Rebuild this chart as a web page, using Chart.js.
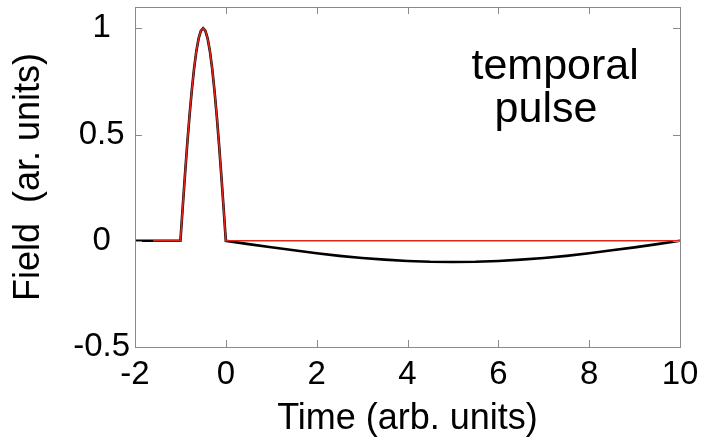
<!DOCTYPE html>
<html>
<head>
<meta charset="utf-8">
<script src="https://cdn.jsdelivr.net/npm/chart.js@4/dist/chart.umd.min.js"></script>
<style>
  body { margin: 0; background: #fff; }
  #wrap { width: 709px; height: 444px; }
</style>
</head>
<body>
<div id="wrap"><canvas id="pulseChart" width="709" height="444"></canvas></div>
<script>
// values
const pulseTime = [-1, -0.95, -0.9, -0.85, -0.8, -0.75, -0.7, -0.65, -0.6, -0.55, -0.5,
                   -0.45, -0.4, -0.35, -0.3, -0.25, -0.2, -0.15, -0.1, -0.05, 0];
const pulseField = [0, 0.156, 0.309, 0.454, 0.588, 0.707, 0.809, 0.891, 0.951, 0.988, 1,
                    0.988, 0.951, 0.891, 0.809, 0.707, 0.588, 0.454, 0.309, 0.156, 0];
const tailTime = [0.5, 1, 1.5, 2, 2.5, 3, 3.5, 4, 4.5, 5, 5.5, 6, 6.5, 7, 7.5, 8, 8.5, 9, 9.5, 10];
const tailField = [-0.016, -0.031, -0.045, -0.059, -0.071, -0.081, -0.089, -0.095, -0.099, -0.1,
                   -0.099, -0.095, -0.089, -0.081, -0.071, -0.059, -0.045, -0.031, -0.016, 0];
const blackStart = [-2, 0];
const redStart = [-1.6, 0];
const redEnd = [10, 0];

const xTicks = [-2, 0, 2, 4, 6, 8, 10];
const yTicks = [-0.5, 0, 0.5, 1];

const FONT = '"Liberation Sans", Arial, sans-serif';

function toPoints(ts, vs) {
    return ts.map((t, i) => ({ x: t, y: vs[i] }));
}

const pulsePoints = toPoints(pulseTime, pulseField);
const blackData = [{ x: blackStart[0], y: blackStart[1] }].concat(pulsePoints, toPoints(tailTime, tailField));
const redData = [{ x: redStart[0], y: redStart[1] }].concat(pulsePoints, [{ x: redEnd[0], y: redEnd[1] }]);

// box round the plot with inward ticks, plus the "temporal pulse" note
const boxPlugin = {
    id: 'boxPlugin',
    afterDraw(chart) {
        const ctx = chart.ctx;
        const a = chart.chartArea;
        const xs = chart.scales.x, ys = chart.scales.y;
        ctx.save();
        ctx.strokeStyle = '#8a8a8a';
        ctx.lineWidth = 1;
        ctx.strokeRect(a.left + 0.5, a.top + 0.5, a.right - a.left, a.bottom - a.top);
        ctx.beginPath();
        xTicks.forEach(v => {
            const px = Math.round(xs.getPixelForValue(v)) + 0.5;
            ctx.moveTo(px, a.bottom); ctx.lineTo(px, a.bottom - 7);
            ctx.moveTo(px, a.top); ctx.lineTo(px, a.top + 7);
        });
        yTicks.forEach(v => {
            const py = Math.round(ys.getPixelForValue(v)) + 0.5;
            ctx.moveTo(a.left, py); ctx.lineTo(a.left + 7, py);
            ctx.moveTo(a.right, py); ctx.lineTo(a.right - 7, py);
        });
        ctx.stroke();

        ctx.fillStyle = '#000';
        ctx.font = '43px ' + FONT;
        ctx.textAlign = 'center';
        ctx.textBaseline = 'alphabetic';
        ctx.fillText('temporal', xs.getPixelForValue(7.25), ys.getPixelForValue(0.76));
        ctx.fillText('pulse', xs.getPixelForValue(7.05), ys.getPixelForValue(0.56));
        ctx.restore();
    }
};

window.onload = () => {
    const ctx = document.getElementById('pulseChart').getContext('2d');
    new Chart(ctx, {
        type: 'line',
        data: {
            datasets: [
                {
                    data: redData,
                    borderColor: '#e0261c',
                    borderWidth: 1.6,
                    pointRadius: 0,
                    order: 0
                },
                {
                    data: blackData,
                    borderColor: '#000000',
                    borderWidth: 2.6,
                    pointRadius: 0,
                    order: 1
                }
            ]
        },
        options: {
            responsive: false,
            animation: false,
            layout: { padding: { top: 7, right: 29, left: 0, bottom: 0 } },
            plugins: { legend: { display: false }, tooltip: { enabled: false } },
            scales: {
                x: {
                    type: 'linear',
                    min: -2, max: 10,
                    grid: { display: false, drawTicks: false },
                    border: { display: false },
                    afterBuildTicks: s => { s.ticks = xTicks.map(v => ({ value: v })); },
                    afterFit: s => { s.height = 97; s.paddingLeft = 0; s.paddingRight = 0; },
                    ticks: {
                        color: '#000',
                        padding: 8,
                        maxRotation: 0,
                        font: { family: FONT, size: 33 },
                        callback: v => String(v)
                    },
                    title: {
                        display: true,
                        text: 'Time (arb. units)',
                        color: '#000',
                        font: { family: FONT, size: 36, lineHeight: 1 },
                        padding: { top: 0, bottom: 7 }
                    }
                },
                y: {
                    type: 'linear',
                    min: -0.5, max: 1.1,
                    grid: { display: false, drawTicks: false },
                    border: { display: false },
                    afterBuildTicks: s => { s.ticks = yTicks.map(v => ({ value: v })); },
                    afterFit: s => { s.width = 135; s.paddingTop = 0; s.paddingBottom = 0; },
                    ticks: {
                        color: '#000',
                        padding: 5,
                        crossAlign: 'center',
                        font: { family: FONT, size: 33 },
                        callback: v => String(v)
                    },
                    title: {
                        display: true,
                        text: 'Field  (ar. units)',
                        color: '#000',
                        font: { family: FONT, size: 36, lineHeight: 1 },
                        padding: { top: 11, bottom: 0 }
                    }
                }
            }
        },
        plugins: [boxPlugin]
    });
};
</script>
</body>
</html>
